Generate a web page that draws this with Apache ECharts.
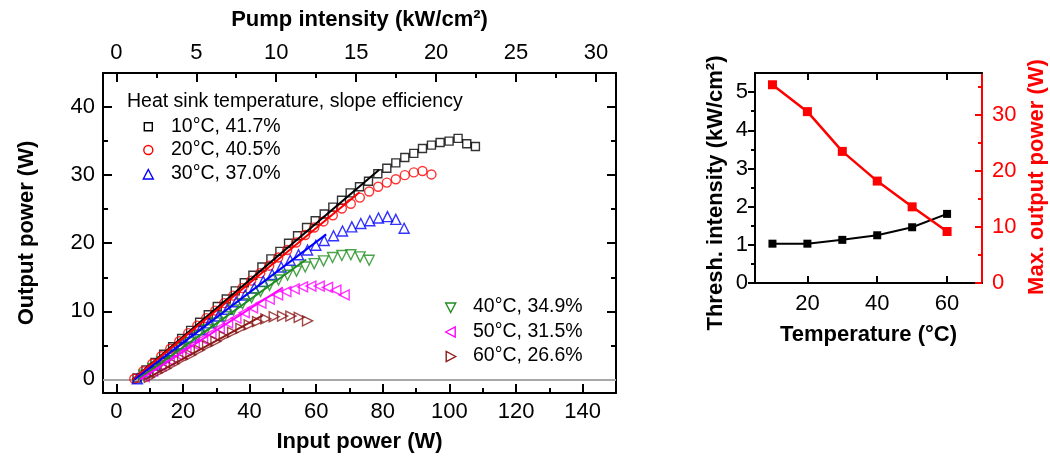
<!DOCTYPE html>
<html>
<head>
<meta charset="utf-8">
<script src="https://cdn.jsdelivr.net/npm/echarts@6/dist/echarts.min.js"></script>
<style>
  html, body { margin: 0; padding: 0; background: #fff; }
  #chart { width: 1050px; height: 459px; }
</style>
</head>
<body>
<div id="chart"></div>
<script>
// ---- Output power vs. input power, per heat-sink temperature ----
const P_10 = [6.2, 8.9, 11.6, 14.2, 16.9, 19.6, 22.3, 25.0, 27.6, 30.3, 33.0, 35.7, 38.4, 41.0, 43.7, 46.4, 49.1, 51.7, 54.4, 57.1, 59.7, 62.4, 65.0, 67.6, 70.2, 73.0, 75.7, 78.5, 81.2, 83.9, 86.6, 89.3, 91.9, 94.6, 97.2, 99.9, 102.6, 105.2, 107.8];
const W_10 = [0.2, 1.4, 2.5, 3.7, 4.8, 6.0, 7.2, 8.4, 9.5, 10.7, 11.8, 13.0, 14.2, 15.3, 16.5, 17.7, 18.8, 20.0, 21.1, 22.3, 23.3, 24.3, 25.3, 26.3, 27.4, 28.3, 29.1, 30.2, 31.0, 31.8, 32.6, 33.2, 33.9, 34.4, 34.8, 35.0, 35.4, 34.6, 34.2];

const P_20 = [5.4, 8.1, 10.8, 13.5, 16.2, 18.9, 21.6, 24.3, 27.0, 29.7, 32.4, 35.1, 37.8, 40.5, 43.2, 45.9, 48.6, 51.3, 54.0, 56.7, 59.4, 62.2, 65.0, 67.7, 70.4, 73.1, 75.9, 78.6, 81.2, 83.9, 86.6, 89.3, 91.9, 94.6];
const W_20 = [0.1, 1.2, 2.3, 3.4, 4.5, 5.6, 6.8, 7.9, 9.0, 10.1, 11.2, 12.3, 13.4, 14.5, 15.6, 16.7, 17.9, 19.0, 20.1, 21.2, 22.3, 23.2, 24.1, 25.1, 25.8, 26.7, 27.6, 28.3, 28.9, 29.4, 30.0, 30.4, 30.6, 30.1];

const P_30 = [6.3, 9.0, 11.7, 14.4, 17.1, 19.8, 22.5, 25.2, 27.9, 30.6, 33.3, 36.0, 38.7, 41.4, 44.1, 46.8, 49.5, 52.2, 54.7, 57.4, 59.9, 62.4, 65.2, 67.9, 70.7, 73.4, 76.1, 78.7, 81.4, 83.9, 86.4];
const W_30 = [0.1, 1.1, 2.1, 3.2, 4.2, 5.2, 6.2, 7.3, 8.3, 9.3, 10.3, 11.4, 12.4, 13.4, 14.4, 15.4, 16.5, 17.5, 18.3, 19.0, 19.7, 20.4, 21.1, 21.8, 22.4, 22.9, 23.3, 23.7, 23.9, 23.5, 22.2];

const P_40 = [8.2, 10.9, 13.6, 16.3, 19.0, 21.7, 24.4, 27.1, 29.8, 32.5, 35.2, 37.9, 40.6, 43.3, 46.0, 48.7, 51.4, 54.1, 56.7, 59.4, 62.2, 64.9, 67.7, 70.4, 73.2, 75.9];
const W_40 = [0.6, 1.6, 2.6, 3.5, 4.5, 5.4, 6.4, 7.3, 8.3, 9.2, 10.2, 11.1, 12.0, 12.9, 13.8, 14.6, 15.3, 15.9, 16.5, 17.0, 17.4, 17.9, 18.2, 18.3, 18.0, 17.5];

const P_50 = [8.4, 10.9, 13.4, 15.9, 18.4, 20.9, 23.4, 25.9, 28.4, 30.9, 33.4, 35.9, 38.4, 40.9, 43.4, 45.9, 48.4, 50.9, 53.4, 55.9, 58.4, 60.9, 63.4, 65.9, 68.4];
const W_50 = [0.4, 1.2, 2.0, 2.8, 3.6, 4.3, 5.1, 5.9, 6.7, 7.5, 8.3, 9.0, 9.8, 10.5, 11.2, 11.8, 12.4, 12.9, 13.3, 13.6, 13.7, 13.7, 13.5, 13.1, 12.4];

const P_60 = [9.9, 12.4, 14.9, 17.4, 19.9, 22.4, 24.9, 27.4, 29.9, 32.4, 34.9, 37.4, 39.9, 42.4, 44.9, 47.4, 49.9, 52.4, 54.9, 57.4];
const W_60 = [0.3, 1.0, 1.6, 2.3, 3.0, 3.6, 4.3, 5.0, 5.6, 6.3, 6.9, 7.5, 8.0, 8.5, 8.9, 9.2, 9.3, 9.3, 9.1, 8.6];

// Linear fits over the low-power range (start, end)
const FIT_10 = [[5.0, 0.0], [78.9, 30.8]];
const FIT_20 = [[5.0, 0.0], [73.0, 27.5]];
const FIT_30 = [[5.5, 0.0], [63.0, 21.3]];
const FIT_40 = [[6.5, 0.0], [57.0, 17.6]];
const FIT_50 = [[7.1, 0.0], [50.0, 13.5]];
const FIT_60 = [[8.7, 0.0], [44.0, 9.4]];

const LABELS = ['10°C, 41.7%', '20°C, 40.5%', '30°C, 37.0%', '40°C, 34.9%', '50°C, 31.5%', '60°C, 26.6%'];
const COLORS = ['#000000', '#ff0000', '#0000ff', '#1e8c1e', '#ff00ff', '#8b1a1a'];

// Axis ticks
const X_MAJOR = [0, 20, 40, 60, 80, 100, 120, 140];
const X_MINOR = [10, 30, 50, 70, 90, 110, 130];
const Y_MAJOR = [0, 10, 20, 30, 40];
const Y_MINOR = [5, 15, 25, 35];
const PUMP_MAJOR = [0, 5, 10, 15, 20, 25, 30];
const PUMP_MINOR = [2.5, 7.5, 12.5, 17.5, 22.5, 27.5];
const W_PER_KWCM2 = 4.8; // input power per unit pump intensity

// ---- Threshold and maximum output vs. temperature ----
const TEMP_C = [10, 20, 30, 40, 50, 60];
const THRESH = [1.03, 1.03, 1.13, 1.25, 1.46, 1.81];
const PMAX = [35.4, 30.6, 23.5, 18.2, 13.6, 9.2];
const T_TICKS = [20, 40, 60];
const TH_MAJOR = [0, 1, 2, 3, 4, 5];
const TH_MINOR = [0.5, 1.5, 2.5, 3.5, 4.5];
const PM_MAJOR = [0, 10, 20, 30];
const PM_MINOR = [5, 15, 25, 35];

const FONT = '"Liberation Sans", Arial, Helvetica, sans-serif';
const zip = (a, b) => a.map((v, i) => [v, b[i]]);

function axis(kind, o) {
  const color = o.color || '#000';
  return {
    type: 'value', gridIndex: o.grid, position: o.position,
    min: o.min, max: o.max,
    axisLine: { show: !!o.line, onZero: false, lineStyle: { color, width: 2 } },
    axisTick: { show: true, inside: o.inside, length: o.len, customValues: o.ticks,
                lineStyle: { color, width: 2 } },
    axisLabel: o.labels ? { show: true, customValues: o.labels, fontSize: 22, fontFamily: FONT,
                            color, margin: o.margin } : { show: false },
    splitLine: { show: false },
    minorTick: { show: false },
    name: o.name || '', nameLocation: 'middle', nameGap: o.nameGap || 0,
    nameRotate: o.nameRotate,
    nameTextStyle: { fontSize: 22, fontWeight: 'bold', fontFamily: FONT, color },
    silent: true
  };
}

const SYMBOLS = [
  { symbol: 'rect', size: 8, rot: 0 },
  { symbol: 'circle', size: 9, rot: 0 },
  { symbol: 'triangle', size: 10, rot: 0 },
  { symbol: 'triangle', size: 10, rot: 180 },
  { symbol: 'triangle', size: 10, rot: 90 },
  { symbol: 'triangle', size: 10, rot: -90 }
];
const PS = [P_10, P_20, P_30, P_40, P_50, P_60];
const WS = [W_10, W_20, W_30, W_40, W_50, W_60];
const FITS = [FIT_10, FIT_20, FIT_30, FIT_40, FIT_50, FIT_60];

const series = [];
PS.forEach((p, i) => {
  series.push({
    type: 'scatter', name: LABELS[i], xAxisIndex: 0, yAxisIndex: 0,
    data: zip(p, WS[i]), symbol: SYMBOLS[i].symbol, symbolSize: SYMBOLS[i].size,
    symbolRotate: SYMBOLS[i].rot,
    itemStyle: { color: 'rgba(255,255,255,0)', borderColor: COLORS[i], borderWidth: 1.4 },
    z: 3 + i, silent: true, animation: false,
    markLine: i === 0 ? {
      silent: true, symbol: 'none', label: { show: false },
      lineStyle: { color: '#a8a8a8', width: 2, type: 'solid' },
      data: [{ yAxis: 0 }], z: 1
    } : undefined
  });
});
FITS.forEach((f, i) => {
  series.push({
    type: 'line', xAxisIndex: 0, yAxisIndex: 0, data: f, showSymbol: false,
    lineStyle: { color: COLORS[i], width: 2 }, z: 10 + i, silent: true, animation: false
  });
});
series.push({
  type: 'line', name: 'Thresh', xAxisIndex: 4, yAxisIndex: 4, data: zip(TEMP_C, THRESH),
  symbol: 'rect', symbolSize: 8, lineStyle: { color: '#000', width: 2 },
  itemStyle: { color: '#000' }, silent: true, animation: false, z: 5
});
series.push({
  type: 'line', name: 'Pmax', xAxisIndex: 4, yAxisIndex: 6, data: zip(TEMP_C, PMAX),
  symbol: 'rect', symbolSize: 9, lineStyle: { color: '#ff0000', width: 2.5 },
  itemStyle: { color: '#ff0000' }, silent: true, animation: false, z: 6
});

// Legend drawn as text + key shapes
const legendText = (x, y, t) => ({ type: 'text', x, y, silent: true,
  style: { text: t, fontSize: 19.5, fontFamily: FONT, fill: '#000', textVerticalAlign: 'middle' } });
const keyStyle = c => ({ fill: 'none', stroke: c, lineWidth: 1.4 });
const tri = (cx, cy, dir) => {
  const s = 5, h = 4.5;
  const pts = {
    up: [[cx, cy - s], [cx + s, cy + h], [cx - s, cy + h]],
    down: [[cx, cy + s], [cx + s, cy - h], [cx - s, cy - h]],
    left: [[cx - s, cy], [cx + h, cy - s], [cx + h, cy + s]],
    right: [[cx + s, cy], [cx - h, cy - s], [cx - h, cy + s]]
  }[dir];
  return pts;
};

const graphic = [
  legendText(127, 102, 'Heat sink temperature, slope efficiency'),
  { type: 'rect', silent: true, shape: { x: 144.3, y: 122.7, width: 8, height: 8 }, style: keyStyle(COLORS[0]) },
  legendText(171, 127, LABELS[0]),
  { type: 'circle', silent: true, shape: { cx: 148.3, cy: 150, r: 4.5 }, style: keyStyle(COLORS[1]) },
  legendText(171, 150, LABELS[1]),
  { type: 'polygon', silent: true, shape: { points: tri(148.3, 174.5, 'up') }, style: keyStyle(COLORS[2]) },
  legendText(171, 174, LABELS[2]),
  { type: 'polygon', silent: true, shape: { points: tri(450.7, 307.5, 'down') }, style: keyStyle(COLORS[3]) },
  legendText(473, 307, LABELS[3]),
  { type: 'polygon', silent: true, shape: { points: tri(450.7, 332, 'left') }, style: keyStyle(COLORS[4]) },
  legendText(473, 331.5, LABELS[4]),
  { type: 'polygon', silent: true, shape: { points: tri(450.7, 356.5, 'right') }, style: keyStyle(COLORS[5]) },
  legendText(473, 356, LABELS[5]),
  { type: 'text', silent: true, x: 716, y: 193, rotation: Math.PI / 2,
    style: { text: 'Thresh. intensity (kW/cm²)', fontSize: 22, fontWeight: 'bold', fontFamily: FONT,
             fill: '#000', textAlign: 'center', textVerticalAlign: 'middle' } },
  { type: 'text', silent: true, x: 1037, y: 177, rotation: Math.PI / 2,
    style: { text: 'Max. output power (W)', fontSize: 22, fontWeight: 'bold', fontFamily: FONT,
             fill: '#ff0000', textAlign: 'center', textVerticalAlign: 'middle' } }
];

const option = {
  backgroundColor: '#fff',
  animation: false,
  grid: [
    { left: 103, right: 434, top: 73, bottom: 66, containLabel: false, outerBoundsMode: 'none' },
    { left: 755, right: 68, top: 73, bottom: 176, containLabel: false, outerBoundsMode: 'none' }
  ],
  xAxis: [
    axis('x', { grid: 0, position: 'bottom', min: -4, max: 150, line: true, inside: true, len: 9,
                ticks: X_MAJOR, labels: X_MAJOR, margin: 8, name: 'Input power (W)', nameGap: 38 }),
    axis('x', { grid: 0, position: 'bottom', min: -4, max: 150, inside: true, len: 5, ticks: X_MINOR }),
    axis('x', { grid: 0, position: 'top', min: -4 / W_PER_KWCM2, max: 150 / W_PER_KWCM2, line: true,
                inside: true, len: 9, ticks: PUMP_MAJOR, labels: PUMP_MAJOR, margin: 9,
                name: 'Pump intensity (kW/cm²)', nameGap: 42 }),
    axis('x', { grid: 0, position: 'top', min: -4 / W_PER_KWCM2, max: 150 / W_PER_KWCM2,
                inside: true, len: 5, ticks: PUMP_MINOR }),
    axis('x', { grid: 1, position: 'bottom', min: 5, max: 70, line: true, inside: true, len: 7,
                ticks: T_TICKS, labels: T_TICKS, margin: 10, name: 'Temperature (°C)', nameGap: 41 }),
    axis('x', { grid: 1, position: 'top', min: 5, max: 70, line: true, inside: true, len: 7, ticks: T_TICKS })
  ],
  yAxis: [
    axis('y', { grid: 0, position: 'left', min: -2, max: 45, line: true, inside: true, len: 9,
                ticks: Y_MAJOR, labels: Y_MAJOR, margin: 8, name: 'Output power (W)', nameGap: 65, nameRotate: 90 }),
    axis('y', { grid: 0, position: 'left', min: -2, max: 45, inside: true, len: 5, ticks: Y_MINOR }),
    axis('y', { grid: 0, position: 'right', min: -2, max: 45, line: true, inside: true, len: 9, ticks: Y_MAJOR }),
    axis('y', { grid: 0, position: 'right', min: -2, max: 45, inside: true, len: 5, ticks: Y_MINOR }),
    axis('y', { grid: 1, position: 'left', min: 0, max: 5.5, line: true, inside: false, len: 7,
                ticks: TH_MAJOR, labels: TH_MAJOR, margin: 7 }),
    axis('y', { grid: 1, position: 'left', min: 0, max: 5.5, inside: false, len: 4, ticks: TH_MINOR }),
    axis('y', { grid: 1, position: 'right', min: 0, max: 37.5, line: true, inside: true, len: 7,
                ticks: PM_MAJOR, labels: PM_MAJOR, margin: 10, color: '#ff0000' }),
    axis('y', { grid: 1, position: 'right', min: 0, max: 37.5, inside: true, len: 4, ticks: PM_MINOR, color: '#ff0000' })
  ],
  series,
  graphic
};

const chart = echarts.init(document.getElementById('chart'), null, { renderer: 'canvas' });
chart.setOption(option);
</script>
</body>
</html>
